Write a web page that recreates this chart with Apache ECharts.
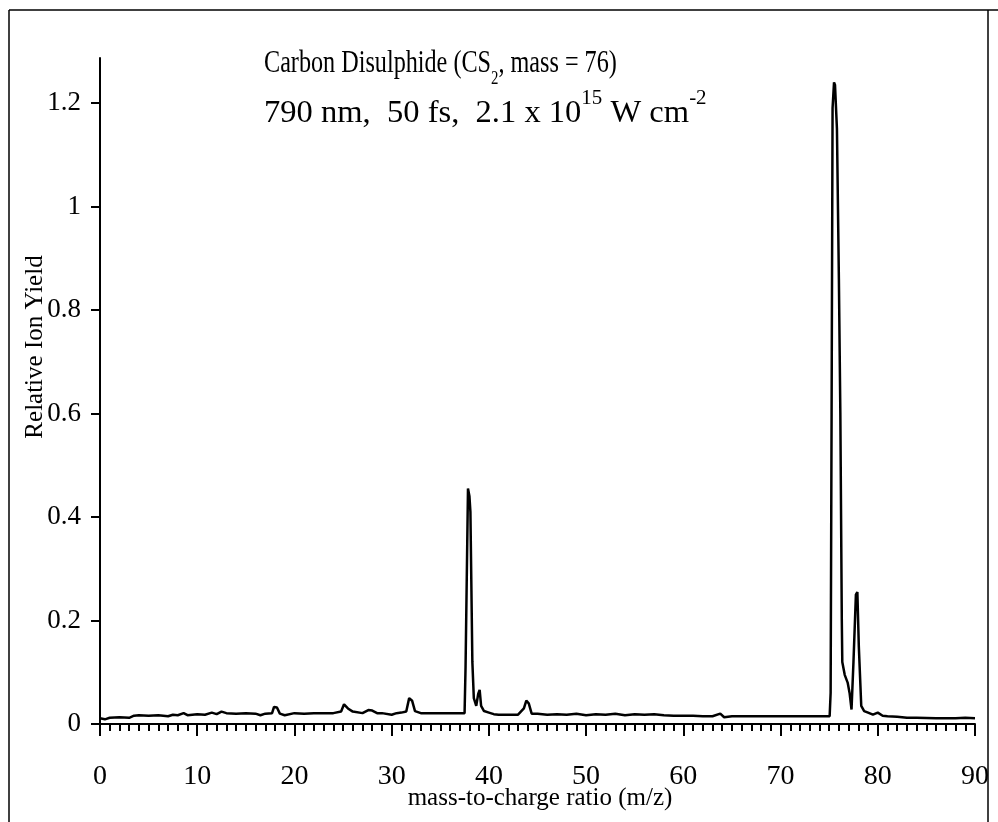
<!DOCTYPE html>
<html>
<head>
<meta charset="utf-8">
<script src="https://cdn.jsdelivr.net/npm/echarts@6/dist/echarts.min.js"></script>
<style>
  html, body { margin: 0; padding: 0; background: #fff; }
  #chart { width: 998px; height: 822px; }
</style>
</head>
<body>
<div id="chart"></div>
<script>
// Time-of-flight mass spectrum of CS2: mass-to-charge ratio vs relative ion yield
const mz = [
  0, 0.5, 1, 2, 3, 3.5, 4, 5, 6, 7, 7.5, 8, 8.6, 9, 10, 10.8, 11.5, 12, 12.5,
  13, 14, 15, 16, 16.5, 17, 17.7, 17.9, 18.2, 18.5, 19, 20, 21, 22, 23, 24,
  24.8, 25.1, 25.5, 26, 27, 27.6, 28, 28.5, 29, 30, 30.5, 31, 31.5, 31.8, 32.1,
  32.4, 33, 34, 35, 36, 37, 37.5, 37.6, 37.85, 38.0, 38.1, 38.3, 38.45, 38.7,
  38.9, 39.05, 39.2, 39.5, 40, 40.5, 41, 42, 43, 43.6, 43.85, 44.1, 44.4, 45,
  46, 47, 48, 49, 50, 51, 52, 53, 54, 55, 56, 57, 58, 59, 60, 61, 62, 63,
  63.8, 64.2, 65, 66, 68, 70, 72, 74, 75.05, 75.15, 75.25, 75.35, 75.5, 75.6,
  75.8, 76.0, 76.15, 76.3, 76.35, 76.6, 76.9, 77.1, 77.3, 77.5, 77.75, 77.9,
  78.05, 78.3, 78.6, 79, 79.5, 80, 80.5, 81, 82, 83, 84, 86, 88, 89, 90
];
const ionYield = [
  0.011, 0.009, 0.012, 0.013, 0.012, 0.016, 0.017, 0.016, 0.017, 0.015, 0.018, 0.017, 0.021, 0.017, 0.019, 0.018, 0.022, 0.019, 0.024,
  0.021, 0.020, 0.021, 0.020, 0.017, 0.020, 0.021, 0.033, 0.032, 0.020, 0.017, 0.021, 0.020, 0.021, 0.021, 0.021,
  0.024, 0.038, 0.030, 0.024, 0.021, 0.027, 0.026, 0.021, 0.021, 0.018, 0.021, 0.022, 0.024, 0.050, 0.045,
  0.025, 0.021, 0.021, 0.021, 0.021, 0.021, 0.021, 0.110, 0.455, 0.440, 0.410, 0.120, 0.050, 0.035,
  0.058, 0.066, 0.035, 0.025, 0.022, 0.019, 0.018, 0.018, 0.018, 0.030, 0.045, 0.040, 0.020, 0.020,
  0.018, 0.019, 0.018, 0.020, 0.017, 0.019, 0.018, 0.020, 0.017, 0.019, 0.018, 0.019, 0.017, 0.016, 0.016, 0.016, 0.015, 0.015,
  0.020, 0.013, 0.015, 0.015, 0.015, 0.015, 0.015, 0.015, 0.015, 0.060, 0.600, 1.190, 1.240, 1.235,
  1.150, 0.860, 0.600, 0.200, 0.120, 0.095, 0.080, 0.060, 0.028, 0.120, 0.250, 0.255,
  0.150, 0.035, 0.025, 0.022, 0.018, 0.022, 0.016, 0.015, 0.014, 0.012, 0.012, 0.011, 0.011, 0.012, 0.011
];
const yTicks = [0, 0.2, 0.4, 0.6, 0.8, 1, 1.2];
const titleLines = [
  'Carbon Disulphide (CS{sub|2}, mass = 76)',
  '790 nm,  50 fs,  2.1 x 10{sup|15} W cm{sup|-2}'
];
const xTitle = 'mass-to-charge ratio (m/z)';
const yTitle = 'Relative Ion Yield';

const serif = '"Liberation Serif", "Times New Roman", serif';
const chart = echarts.init(document.getElementById('chart'));

// serif heading lines, with sub/superscripts as rich-text tokens
function headingLine(text, y, size, sx) {
  return {
    type: 'text',
    x: 264,
    y: y,
    scaleX: sx,
    style: {
      text: text,
      fontFamily: serif,
      fontSize: size,
      fill: '#000',
      lineHeight: 50,
      verticalAlign: 'middle',
      rich: {
        sub: { fontFamily: serif, fontSize: 19, fill: '#000', verticalAlign: 'bottom', lineHeight: 30 },
        sup: { fontFamily: serif, fontSize: 20, fill: '#000', verticalAlign: 'top', lineHeight: 26 }
      }
    }
  };
}

chart.setOption({
  backgroundColor: '#fff',
  animation: false,
  grid: { left: 100, right: 23, top: 58, bottom: 98, outerBoundsMode: 'none', containLabel: false },
  xAxis: {
    type: 'value',
    min: 0,
    max: 90,
    interval: 10,
    axisLine: { lineStyle: { color: '#000', width: 2 } },
    axisTick: { length: 12, lineStyle: { color: '#000', width: 2 } },
    minorTick: { show: true, splitNumber: 10, length: 7, lineStyle: { color: '#000', width: 2 } },
    axisLabel: { fontFamily: serif, fontSize: 28, color: '#000', margin: 39 },
    splitLine: { show: false }
  },
  yAxis: {
    type: 'value',
    min: 0,
    max: 1.287,
    interval: 0.2,
    axisLine: { show: true, lineStyle: { color: '#000', width: 2 } },
    axisTick: { show: true, length: 9, customValues: yTicks, lineStyle: { color: '#000', width: 2 } },
    axisLabel: { fontFamily: serif, fontSize: 27, color: '#000', margin: 19, customValues: yTicks },
    splitLine: { show: false }
  },
  graphic: [
    headingLine(titleLines[0], 64, 31, 0.78),
    headingLine(titleLines[1], 114, 31, 1.05),
    {
      type: 'text',
      x: 540,
      y: 798,
      style: {
        text: xTitle,
        fontFamily: serif,
        fontSize: 25,
        fill: '#000',
        align: 'center',
        verticalAlign: 'middle'
      }
    },
    {
      type: 'text',
      x: 35,
      y: 347,
      rotation: Math.PI / 2,
      style: {
        text: yTitle,
        fontFamily: serif,
        fontSize: 25,
        fill: '#000',
        align: 'center',
        verticalAlign: 'middle'
      }
    },
    { type: 'line', shape: { x1: 9, y1: 10, x2: 9, y2: 822 }, style: { stroke: '#000', lineWidth: 1.5 } },
    { type: 'line', shape: { x1: 9, y1: 10, x2: 998, y2: 10 }, style: { stroke: '#000', lineWidth: 1.5 } },
    { type: 'line', shape: { x1: 988, y1: 10, x2: 988, y2: 822 }, style: { stroke: '#000', lineWidth: 1.5 } }
  ],
  series: [{
    type: 'line',
    data: mz.map((m, i) => [m, ionYield[i]]),
    showSymbol: false,
    smooth: false,
    lineStyle: { color: '#000', width: 2.5 },
    itemStyle: { color: '#000' }
  }]
});
</script>
</body>
</html>
